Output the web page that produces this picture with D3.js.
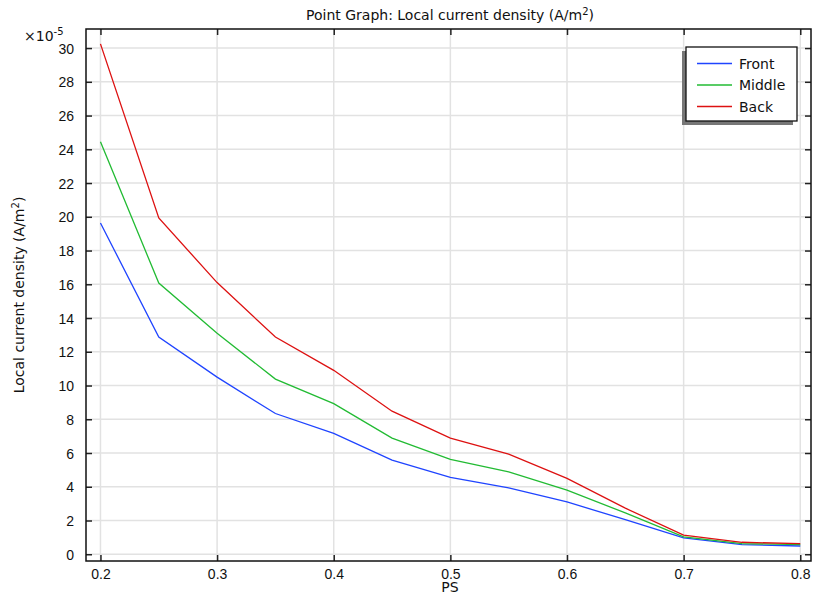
<!DOCTYPE html>
<html>
<head>
<meta charset="utf-8">
<script src="https://cdn.jsdelivr.net/npm/d3@7"></script>
<style>
  body { margin: 0; background: #fff; }
  svg { font-family: "DejaVu Sans", sans-serif; }
  .tick text { font-size: 14px; fill: #111; }
</style>
</head>
<body>
<div id="graph"></div>
<script>
var ps = [0.2, 0.25, 0.3, 0.35, 0.4, 0.45, 0.5, 0.55, 0.6, 0.65, 0.7, 0.75, 0.8]
var front  = [19.63, 12.87, 10.5, 8.34, 7.16, 5.58, 4.55, 3.93, 3.1, 2.05, 0.97, 0.57, 0.49]
var middle = [24.45, 16.07, 13.1, 10.38, 8.93, 6.88, 5.62, 4.88, 3.8, 2.45, 1.03, 0.63, 0.57]
var back   = [30.25, 19.93, 16.1, 12.87, 10.9, 8.48, 6.88, 5.93, 4.5, 2.73, 1.13, 0.71, 0.63]
var seriesNames = ['Front', 'Middle', 'Back']
var colors = ['#1f44ff', '#22bb33', '#dd1111']
var xTicks = [0.2, 0.3, 0.4, 0.5, 0.6, 0.7, 0.8]
var yTicks = d3.range(0, 31, 2)

var series = [front, middle, back].map(function(vals, i){
  return {name: seriesNames[i], color: colors[i], values: vals.map(function(v, j){ return {x: ps[j], y: v} })}
})

var W = 813, H = 596
var m = {left: 86, right: 2, top: 29, bottom: 35}
var w = W - m.left - m.right, h = H - m.top - m.bottom

var svg = d3.select('#graph').append('svg').attr('width', W).attr('height', H)
var g = svg.append('g').attr('transform', 'translate(' + m.left + ',' + m.top + ')')

var x = d3.scaleLinear().domain([0.1876, 0.8092]).range([0, w])
var y = d3.scaleLinear().domain([-0.4, 31.13]).range([h, 0])

// grid
g.selectAll('line.gx').data(xTicks).enter().append('line')
  .attr('x1', d => x(d)).attr('x2', d => x(d)).attr('y1', 0).attr('y2', h)
  .attr('stroke', '#e2e2e2').attr('stroke-width', 1.5)
g.selectAll('line.gy').data(yTicks).enter().append('line')
  .attr('y1', d => y(d)).attr('y2', d => y(d)).attr('x1', 0).attr('x2', w)
  .attr('stroke', '#e2e2e2').attr('stroke-width', 1.5)

// lines
var line = d3.line().x(d => x(d.x)).y(d => y(d.y))
g.selectAll('path.s').data(series).enter().append('path')
  .attr('d', d => line(d.values))
  .attr('fill', 'none').attr('stroke', d => d.color).attr('stroke-width', 1.3)

// axes
var tickFmt = d3.format('.1f')
var xb = g.append('g').attr('transform', 'translate(0,' + h + ')')
  .call(d3.axisBottom(x).tickValues(xTicks).tickFormat(tickFmt).tickSizeInner(-6).tickSizeOuter(0).tickPadding(8))
var xt = g.append('g')
  .call(d3.axisTop(x).tickValues(xTicks).tickFormat('').tickSizeInner(-6).tickSizeOuter(0))
var yl = g.append('g')
  .call(d3.axisLeft(y).tickValues(yTicks).tickSizeInner(-6).tickSizeOuter(0).tickPadding(12))
var yr = g.append('g').attr('transform', 'translate(' + w + ',0)')
  .call(d3.axisRight(y).tickValues(yTicks).tickFormat('').tickSizeInner(-6).tickSizeOuter(0))
;[xb, xt, yl, yr].forEach(function(a){
  a.select('.domain').remove()
  a.selectAll('.tick line').attr('stroke', '#222').attr('stroke-width', 1.5)
})
yl.selectAll('.tick text').attr('dy', '0.36em')

g.append('rect').attr('width', w).attr('height', h)
  .attr('fill', 'none').attr('stroke', '#111').attr('stroke-width', 1.5)

// exponent
var ex = svg.append('text').attr('x', 24).attr('y', 41).attr('font-size', 14).attr('fill', '#111')
ex.append('tspan').text('\u00d710')
ex.append('tspan').attr('dy', -6).attr('font-size', 10).text('-5')

// title
var t = svg.append('text').attr('x', 450).attr('y', 20).attr('text-anchor', 'middle').attr('font-size', 14).attr('fill', '#111')
t.append('tspan').text('Point Graph: Local current density (A/m')
t.append('tspan').attr('dy', -5).attr('font-size', 10).text('2')
t.append('tspan').attr('dy', 5).text(')')

// axis titles
svg.append('text').attr('x', 450).attr('y', 592).attr('text-anchor', 'middle')
  .attr('font-size', 14).attr('fill', '#111').text('PS')
var yt = svg.append('text').attr('transform', 'translate(24,295) rotate(-90)')
  .attr('text-anchor', 'middle').attr('font-size', 14).attr('fill', '#111')
yt.append('tspan').text('Local current density (A/m')
yt.append('tspan').attr('dy', -5).attr('font-size', 10).text('2')
yt.append('tspan').attr('dy', 5).text(')')

// legend
var lg = svg.append('g').attr('transform', 'translate(686,47)')
lg.append('rect').attr('x', -4).attr('y', 4).attr('width', 111).attr('height', 74).attr('fill', '#777')
lg.append('rect').attr('width', 111).attr('height', 74).attr('fill', '#fff').attr('stroke', '#111').attr('stroke-width', 1.3)
var li = lg.selectAll('g.item').data(series).enter().append('g')
  .attr('transform', (d, i) => 'translate(0,' + (16.5 + i * 21.5) + ')')
li.append('line').attr('x1', 11).attr('x2', 46).attr('stroke', d => d.color).attr('stroke-width', 1.3)
li.append('text').attr('x', 53).attr('dy', '0.36em').attr('font-size', 14).attr('fill', '#111').text(d => d.name)
</script>
</body>
</html>
